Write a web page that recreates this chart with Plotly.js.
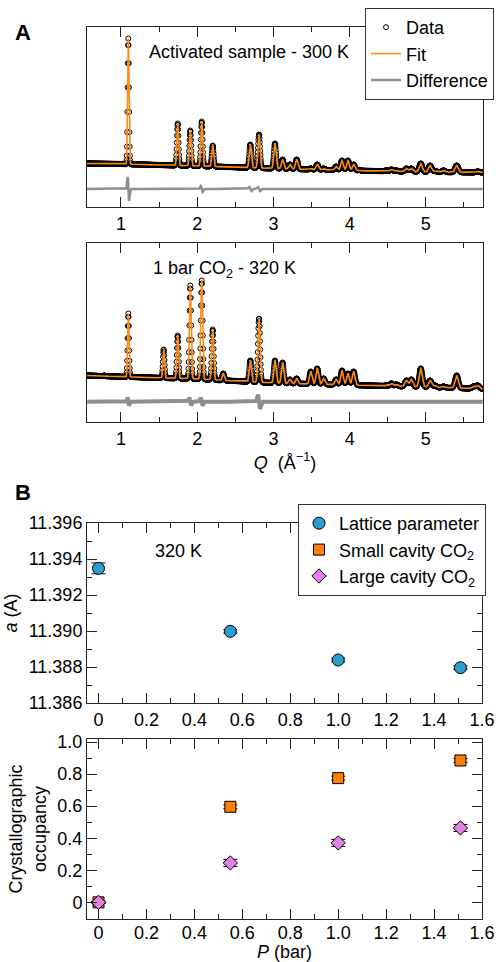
<!DOCTYPE html>
<html><head><meta charset="utf-8">
<script src="https://cdn.plot.ly/plotly-3.0.1.min.js"></script>
<style>html,body{margin:0;padding:0;background:#fff}</style>
</head><body><div id="chart" style="width:498px;height:962px"></div>
<script>
// ---- Panel A: powder diffraction (peak list) ----
const peakQ = [0.78, 1.096, 1.358, 1.56, 1.744, 1.909, 2.059, 2.203, 2.342, 2.467, 2.697, 2.811, 3.02, 3.12, 3.216, 3.305, 3.49, 3.575, 3.659, 3.822, 3.90, 3.978, 4.053, 4.128, 4.30, 4.37, 4.48, 4.549, 4.615, 4.745, 4.809, 4.934, 5.055, 5.12, 5.233, 5.30, 5.405, 5.625, 5.68];
const peakTopActivated = [43.5, 171, 43, 42.5, 86, 79, 88, 64, 42, 40, 65, 75, 66, 50, 45, 50, 41, 45, 41, 43, 49, 49, 45, 39.5, 37, 37.5, 39, 40, 39, 41, 41, 46, 44, 38.5, 39, 36.5, 44, 37, 38];
const peakTopCO2 = [49, 111, 47, 75, 89, 139, 144, 95, 51, 42, 64, 106, 64, 62, 45, 46, 53, 56, 46, 45, 54, 51, 53, 38.5, 37.5, 38, 39, 41, 40, 44, 45, 56, 44, 39, 38, 35.5, 49, 38, 39];
const bgQ = [0.55, 1, 2, 3, 4, 5, 5.75];
const bgActivated = [43.5, 43, 41, 38.5, 36.5, 35, 34.5];
const bgCO2 = [46.5, 45.3, 43, 39, 37, 35, 33];
const diffLevelActivated = 18;
const diffLevelCO2 = 20.3;
const diffSpikeQActivated = [1.096, 2.059, 2.697, 2.811];
const diffSpikeAmpActivated = [12, 3, 2, 2];
const diffSpikeQCO2 = [1.096, 1.909, 2.059, 2.811];
const diffSpikeAmpCO2 = [4, 4, 4, 7];
const qTickVals = [1, 2, 3, 4, 5];

// ---- Panel B: refinement results ----
const pressure = [0, 0.55, 1.0, 1.51];
const latticeA = [11.39348, 11.38998, 11.38839, 11.38796];
const latticeErr = [0.0003, 0.0001, 0.0001, 0.0001];
const smallOcc = [0, 0.596, 0.775, 0.885];
const smallErr = [0.005, 0.012, 0.012, 0.012];
const largeOcc = [0, 0.246, 0.371, 0.464];
const largeErr = [0.005, 0.022, 0.022, 0.022];
const pTickVals = [0, 0.2, 0.4, 0.6, 0.8, 1.0, 1.2, 1.4, 1.6];
const pTickText = ['0', '0.2', '0.4', '0.6', '0.8', '1.0', '1.2', '1.4', '1.6'];
const aTickVals = [11.386, 11.388, 11.390, 11.392, 11.394, 11.396];
const occTickVals = [0, 0.2, 0.4, 0.6, 0.8, 1.0];
const occTickText = ['0', '0.2', '0.4', '0.6', '0.8', '1.0'];

// ---- profile model built from the read peak list ----
function interp(xs, ys, x) {
  if (x <= xs[0]) return ys[0];
  for (let i = 1; i < xs.length; i++) {
    if (x <= xs[i]) { const t = (x - xs[i-1]) / (xs[i] - xs[i-1]); return ys[i-1] + t * (ys[i] - ys[i-1]); }
  }
  return ys[ys.length - 1];
}
function sig(q) { return 0.006 + 0.0028 * q; }
function profile(q, tops, bgv) {
  let v = interp(bgQ, bgv, q);
  for (let i = 0; i < peakQ.length; i++) {
    const h = Math.max(0, tops[i] - interp(bgQ, bgv, peakQ[i]) - 2.5);
    const s = sig(peakQ[i]);
    const d = q - peakQ[i];
    if (Math.abs(d) < 6 * s) v += h * Math.exp(-d * d / (2 * s * s));
  }
  return v;
}
function diffCurve(q, level, sq, sa) {
  let v = level;
  for (let i = 0; i < sq.length; i++) {
    const s = sig(sq[i]); const u = (q - sq[i]) / s;
    if (Math.abs(u) < 6) v += -sa[i] * u * Math.exp(0.5 - u * u / 2);
  }
  return v;
}
const qs = [];
for (let q = 0.556; q <= 5.748; q += 0.003) qs.push(+q.toFixed(4));
const yAct = qs.map(q => profile(q, peakTopActivated, bgActivated));
const yCO2 = qs.map(q => profile(q, peakTopCO2, bgCO2));
const dAct = qs.map(q => diffCurve(q, diffLevelActivated, diffSpikeQActivated, diffSpikeAmpActivated));
const dCO2 = qs.map(q => diffCurve(q, diffLevelCO2, diffSpikeQCO2, diffSpikeAmpCO2));

const FONT = 'Liberation Sans, Arial, Helvetica, sans-serif';
const ORANGE = '#ff8a14';
const GREY = '#8f8f8f';
const LINE = '#222';

const traces = [
  {x: qs, y: yAct, xaxis: 'x', yaxis: 'y', type: 'scatter', mode: 'markers', name: 'Data', legend: 'legend',
   marker: {symbol: 'circle-open', size: 5, color: '#000', line: {width: 1}}},
  {x: qs, y: yAct, xaxis: 'x', yaxis: 'y', type: 'scatter', mode: 'lines', name: 'Fit', legend: 'legend',
   line: {color: ORANGE, width: 1.6}},
  {x: qs, y: dAct, xaxis: 'x', yaxis: 'y', type: 'scatter', mode: 'lines', name: 'Difference', legend: 'legend',
   line: {color: GREY, width: 2.5}},
  {x: qs, y: yCO2, xaxis: 'x2', yaxis: 'y2', type: 'scatter', mode: 'markers', showlegend: false,
   marker: {symbol: 'circle-open', size: 5, color: '#000', line: {width: 1}}},
  {x: qs, y: yCO2, xaxis: 'x2', yaxis: 'y2', type: 'scatter', mode: 'lines', showlegend: false,
   line: {color: ORANGE, width: 1.6}},
  {x: qs, y: dCO2, xaxis: 'x2', yaxis: 'y2', type: 'scatter', mode: 'lines', showlegend: false,
   line: {color: GREY, width: 4}},
  {x: pressure, y: latticeA, xaxis: 'x3', yaxis: 'y3', type: 'scatter', mode: 'markers', name: 'Lattice parameter', legend: 'legend2',
   error_y: {type: 'data', array: latticeErr, color: '#000', thickness: 1, width: 7},
   marker: {symbol: 'circle', size: 12, color: '#2c9dcf', line: {color: '#000', width: 1}}},
  {x: pressure, y: smallOcc, xaxis: 'x4', yaxis: 'y4', type: 'scatter', mode: 'markers', name: 'Small cavity CO<sub>2</sub>', legend: 'legend2',
   error_y: {type: 'data', array: smallErr, color: '#000', thickness: 1, width: 7},
   marker: {symbol: 'square', size: 11, color: '#ff8000', line: {color: '#000', width: 1}}},
  {x: pressure, y: largeOcc, xaxis: 'x4', yaxis: 'y4', type: 'scatter', mode: 'markers', name: 'Large cavity CO<sub>2</sub>', legend: 'legend2',
   error_y: {type: 'data', array: largeErr, color: '#000', thickness: 1, width: 7},
   marker: {symbol: 'diamond', size: 11, color: '#e482e4', line: {color: '#000', width: 1}}}
];

const W = 498, H = 962;
const dx = (a, b) => [a / W, b / W];
const dy = (top, bot) => [1 - bot / H, 1 - top / H];

const axBase = {showline: true, linecolor: LINE, linewidth: 1, mirror: 'ticks', ticks: 'inside', ticklen: 10,
  tickcolor: LINE, showgrid: false, zeroline: false, tickfont: {size: 18, family: FONT, color: '#000'}};
const qAxis = Object.assign({}, axBase, {range: [0.554, 5.75], tickvals: qTickVals, minor: {dtick: 0.5, tick0: 0, ticks: 'inside', ticklen: 5, tickcolor: LINE}});
const hiddenY = {showline: true, linecolor: LINE, linewidth: 1, mirror: true, ticks: '', showticklabels: false, showgrid: false, zeroline: false};
const pAxis = Object.assign({}, axBase, {range: [-0.048, 1.6], tickvals: pTickVals, ticktext: pTickText, minor: {dtick: 0.1, tick0: 0, ticks: 'inside', ticklen: 5, tickcolor: LINE}});

const layout = {
  width: W, height: H, margin: {l: 0, r: 0, t: 0, b: 0}, paper_bgcolor: '#fff', plot_bgcolor: '#fff',
  font: {family: FONT, size: 18, color: '#000'},
  xaxis: Object.assign({}, qAxis, {domain: dx(87, 483), anchor: 'y'}),
  yaxis: Object.assign({}, hiddenY, {domain: dy(27, 207), range: [0, 180], anchor: 'x'}),
  xaxis2: Object.assign({}, qAxis, {domain: dx(87, 483), anchor: 'y2',
    title: {text: '<i>Q</i>\u00a0\u00a0(Å<sup>−1</sup>)', font: {size: 18, family: FONT}, standoff: 8}}),
  yaxis2: Object.assign({}, hiddenY, {domain: dy(243, 422), range: [0, 179], anchor: 'x2'}),
  xaxis3: Object.assign({}, pAxis, {domain: dx(87, 482), anchor: 'y3'}),
  yaxis3: Object.assign({}, axBase, {domain: dy(523, 703), anchor: 'x3', range: [11.386, 11.396], tickvals: aTickVals, tickformat: '.3f',
    minor: {dtick: 0.001, tick0: 11.386, ticks: 'inside', ticklen: 5, tickcolor: LINE},
    title: {text: '<i>a</i> (A)', font: {size: 18, family: FONT}, standoff: 6}}),
  xaxis4: Object.assign({}, pAxis, {domain: dx(87, 482), anchor: 'y4', ticklabelstandoff: -3,
    title: {text: '<i>P</i> (bar)', font: {size: 18, family: FONT}, standoff: 8}}),
  yaxis4: Object.assign({}, axBase, {domain: dy(739, 919), anchor: 'x4', range: [-0.104, 1.019], tickvals: occTickVals, ticktext: occTickText,
    minor: {dtick: 0.1, tick0: 0, ticks: 'inside', ticklen: 5, tickcolor: LINE},
    title: {text: 'Crystallographic<br>occupancy', font: {size: 18, family: FONT}, standoff: 6}}),
  legend: {x: 365 / W, y: 1 - 8 / H, xanchor: 'left', yanchor: 'top', bgcolor: '#fff', bordercolor: '#333', borderwidth: 1,
    font: {size: 18, family: FONT}, tracegroupgap: 0},
  legend2: {x: 298 / W, y: 1 - 504 / H, xanchor: 'left', yanchor: 'top', bgcolor: '#fff', bordercolor: '#333', borderwidth: 1,
    font: {size: 18, family: FONT}, tracegroupgap: 0},
  annotations: [
    {text: 'Activated sample - 300 K', xref: 'x', yref: 'y', x: 1.341, y: 155, xanchor: 'left', yanchor: 'middle', showarrow: false, font: {size: 18}},
    {text: '1 bar CO<sub>2</sub> - 320 K', xref: 'x2', yref: 'y2', x: 1.394, y: 152, xanchor: 'left', yanchor: 'middle', showarrow: false, font: {size: 18}},
    {text: '320 K', xref: 'x3', yref: 'y3', x: 0.2275, y: 11.39444, xanchor: 'left', yanchor: 'middle', showarrow: false, font: {size: 18}},
    {text: '<b>A</b>', xref: 'paper', yref: 'paper', x: 13 / W, y: 1 - 32 / H, xanchor: 'left', yanchor: 'middle', showarrow: false, font: {size: 22}},
    {text: '<b>B</b>', xref: 'paper', yref: 'paper', x: 13 / W, y: 1 - 492 / H, xanchor: 'left', yanchor: 'middle', showarrow: false, font: {size: 22}}
  ]
};

Plotly.newPlot('chart', traces, layout, {staticPlot: true, displayModeBar: false});
</script></body></html>
